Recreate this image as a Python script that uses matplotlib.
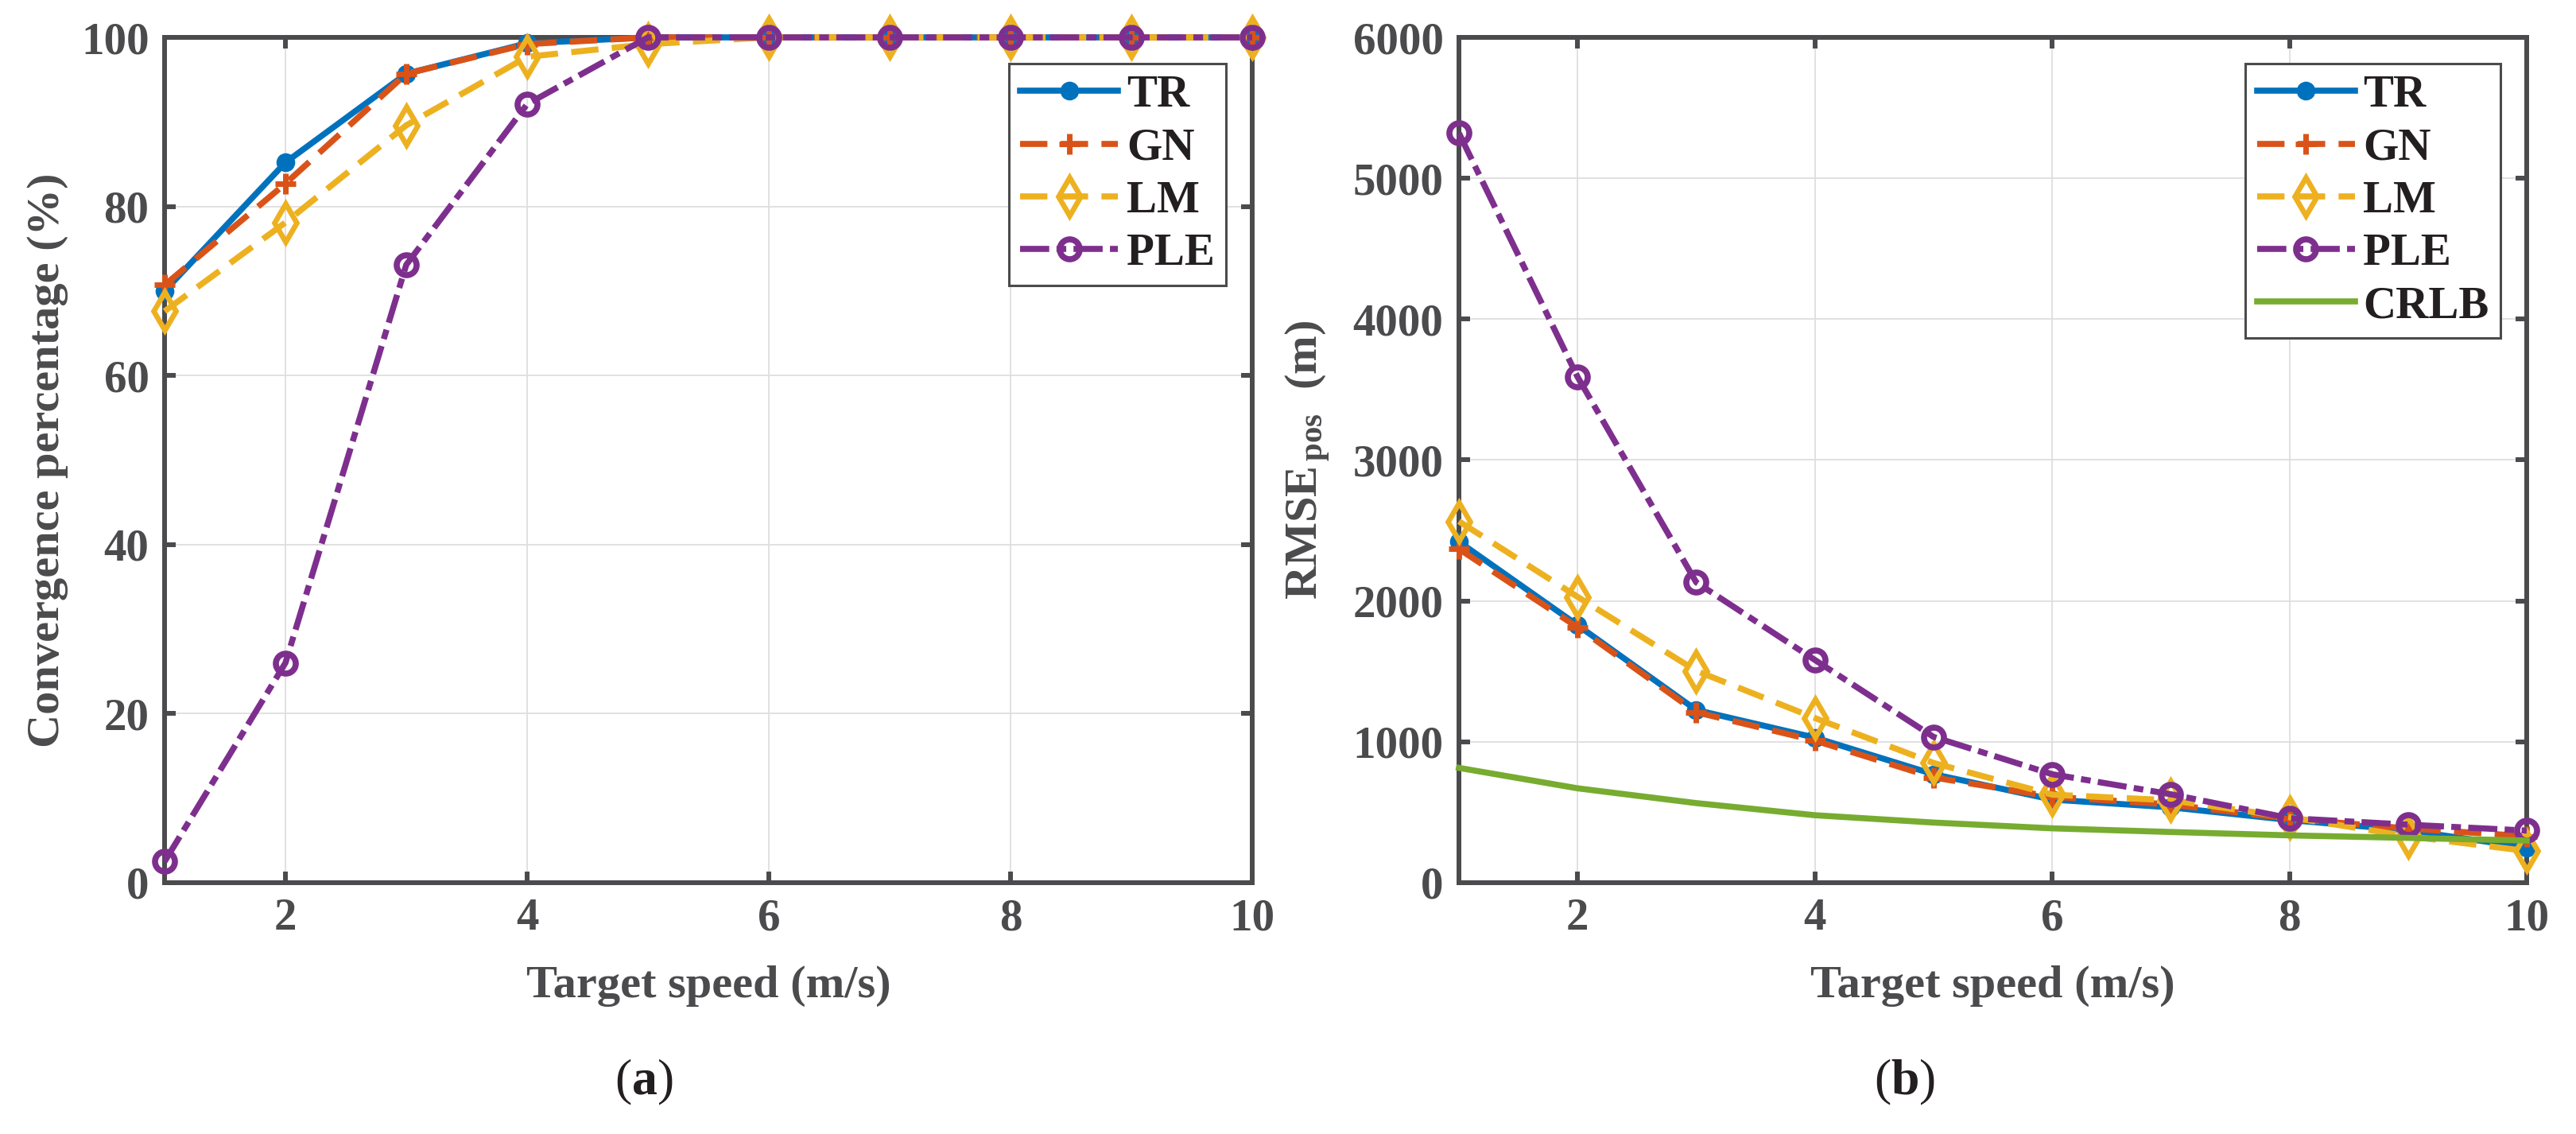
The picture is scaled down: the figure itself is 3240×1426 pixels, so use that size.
import matplotlib
matplotlib.use('Agg')
import matplotlib.pyplot as plt

# data
speed = [1, 2, 3, 4, 5, 6, 7, 8, 9, 10]

conv_tr = [70.0, 85.2, 95.7, 99.3, 100, 100, 100, 100, 100, 100]
conv_gn = [70.7, 82.7, 95.7, 99.2, 100, 100, 100, 100, 100, 100]
conv_lm = [67.6, 78.1, 89.6, 97.7, 99.2, 100, 100, 100, 100, 100]
conv_ple = [2.5, 26.0, 73.1, 92.1, 100, 100, 100, 100, 100, 100]

rmse_tr = [2420, 1828, 1226, 1030, 770, 590, 535, 445, 372, 250]
rmse_gn = [2369, 1813, 1210, 1009, 747, 610, 555, 455, 385, 330]
rmse_lm = [2565, 2029, 1504, 1169, 850, 625, 585, 465, 330, 225]
rmse_ple = [5320, 3590, 2132, 1581, 1035, 770, 628, 458, 412, 370]
rmse_crlb = [815, 670, 565, 479, 427, 386, 360, 336, 318, 299]

conv_ticks = [0, 20, 40, 60, 80, 100]
rmse_ticks = [0, 1000, 2000, 3000, 4000, 5000, 6000]
speed_ticks = [2, 4, 6, 8, 10]

plt.rcParams['font.family'] = 'serif'
plt.rcParams['font.serif'] = ['Liberation Serif', 'DejaVu Serif']
plt.rcParams['font.weight'] = 'bold'
plt.rcParams['mathtext.fontset'] = 'custom'
plt.rcParams['mathtext.rm'] = 'Liberation Serif:bold'
plt.rcParams['mathtext.bf'] = 'Liberation Serif:bold'
plt.rcParams['mathtext.it'] = 'Liberation Serif:bold'

gray = '#4b4b4d'
fs = 42
lw = 5.5

styles = {
    'TR': dict(color='#0072BD', linestyle='-', marker='o', ms=14, mew=3),
    'GN': dict(color='#D95319', linestyle=(0, (4.5, 2.2)), marker='+', ms=19, mew=5),
    'LM': dict(color='#EDB120', linestyle=(0, (4.5, 2.2)), marker='d', ms=24, mew=4.8, mfc='none'),
    'PLE': dict(color='#7E2F8E', linestyle=(0, (4.8, 1.2, 1.6, 1.2)), marker='o', ms=18, mew=5.5, mfc='none'),
    'CRLB': dict(color='#77AC30', linestyle='-'),
}

fig = plt.figure(figsize=(32.4, 14.26), dpi=100)
ax1 = fig.add_axes([0.06389, 0.2216, 0.42222, 0.74544])
ax2 = fig.add_axes([0.56636, 0.2216, 0.41451, 0.74544])


def style_axes(ax, yticks):
    ax.set_xlim(1, 10)
    ax.set_ylim(yticks[0], yticks[-1])
    ax.set_xticks(speed_ticks)
    ax.set_yticks(yticks)
    ax.grid(True, color='#dedede', linewidth=1.3)
    ax.set_axisbelow(True)
    for s in ax.spines.values():
        s.set_color(gray)
        s.set_linewidth(4.3)
    ax.tick_params(direction='in', length=10, width=4.3, colors=gray,
                   labelsize=41, pad=14, top=True, right=True)
    for lab in ax.get_xticklabels() + ax.get_yticklabels():
        lab.set_fontweight('bold')
    ax.set_xlabel('Target speed (m/s)', fontsize=fs, color=gray,
                  fontweight='bold', va='center')
    ax.xaxis.set_label_coords(0.5, -0.1223)


def draw(ax, name, values):
    st = dict(styles[name])
    ax.plot(speed, values, label=name, linewidth=lw, clip_on=False, zorder=3,
            color=st.pop('color'), linestyle=st.pop('linestyle'),
            marker=st.pop('marker', None), markersize=st.pop('ms', None),
            markeredgewidth=st.pop('mew', None),
            markerfacecolor=st.pop('mfc', None))


# (a) convergence
style_axes(ax1, conv_ticks)
draw(ax1, 'TR', conv_tr)
draw(ax1, 'GN', conv_gn)
draw(ax1, 'LM', conv_lm)
draw(ax1, 'PLE', conv_ple)
ax1.set_ylabel('Convergence percentage (%)', fontsize=fs, color=gray,
               fontweight='bold', va='center')
ax1.yaxis.set_label_coords(-0.1075, 0.5)

# (b) rmse
style_axes(ax2, rmse_ticks)
draw(ax2, 'TR', rmse_tr)
draw(ax2, 'GN', rmse_gn)
draw(ax2, 'LM', rmse_lm)
draw(ax2, 'PLE', rmse_ple)
draw(ax2, 'CRLB', rmse_crlb)
ax2.set_ylabel(r'RMSE$_{\mathrm{\,pos}}$  (m)', fontsize=fs, color=gray,
               fontweight='bold', va='center')
ax2.yaxis.set_label_coords(-0.1415, 0.5)

for ax in (ax1, ax2):
    leg = ax.legend(loc='upper right', fancybox=False,
                    framealpha=1, edgecolor=gray, borderaxespad=0.58,
                    borderpad=0.25, handlelength=2.16, handletextpad=0.19,
                    labelspacing=0.25, prop={'weight': 'bold', 'size': 41})
    leg.get_frame().set_linewidth(2.2)
    leg.set_zorder(5)
    for t in leg.get_texts():
        t.set_color('#231f20')

fig.text(0.25, 0.0456, r'($\mathbf{a}$)', fontsize=46, fontweight='normal',
         color='#231f20', ha='center', va='center')
fig.text(0.7395, 0.0456, r'($\mathbf{b}$)', fontsize=46, fontweight='normal',
         color='#231f20', ha='center', va='center')

fig.savefig('out.png', dpi=100)
